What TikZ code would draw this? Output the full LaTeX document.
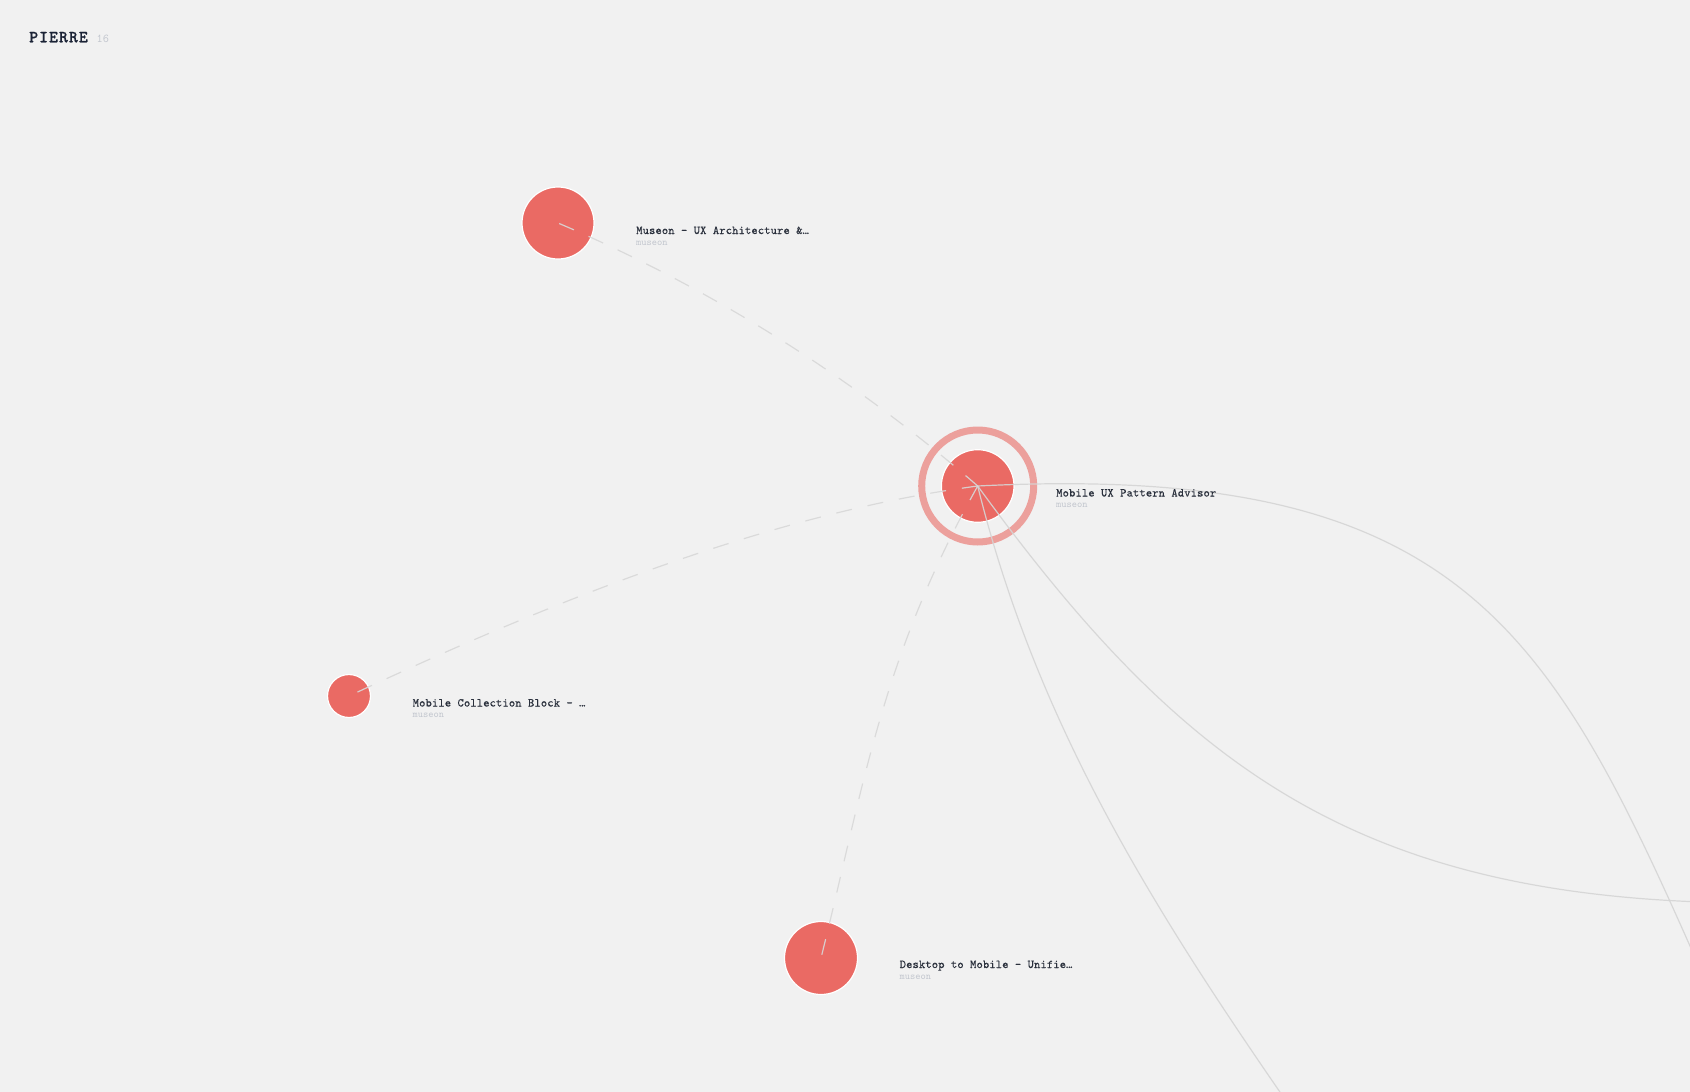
\documentclass[tikz,border=0pt]{standalone}
\usepackage{fontspec}
\usetikzlibrary{calc, positioning}
\newfontfamily\titlefont{lmmonolt10-bold.otf}[LetterSpace=6, FakeBold=0.8]
\newfontfamily\lblfont{lmmono10-regular.otf}[LetterSpace=1, FakeBold=0.35]
\definecolor{pbg}{HTML}{F1F1F1}
\definecolor{pred}{HTML}{EA6A64}
\definecolor{pline}{HTML}{D5D5D5}
\definecolor{pdash}{HTML}{D8D8D8}
\definecolor{pnavy}{HTML}{1B2336}
\definecolor{ptext}{HTML}{2A303C}
\definecolor{pmute}{HTML}{C2C6CE}

\begin{document}
\begin{tikzpicture}[x=1pt, y=1pt,
    dot/.style={circle, fill=pred, draw=white, line width=1.2pt, inner sep=0pt, outer sep=0pt},
    lbl/.style={anchor=base west, inner sep=0pt, text=ptext, font=\lblfont\fontsize{12}{14}\selectfont},
    sub/.style={anchor=base west, inner sep=0pt, text=pmute, font=\ttfamily\fontsize{10}{12}\selectfont},
    link/.style={draw=pline, line width=1.2pt, opacity=0.9},
    weak/.style={link, draw=pdash, dash pattern=on 16pt off 16pt}]
    % canvas
    \fill[pbg] (0,0) rectangle (1690,-1092);
    \useasboundingbox (0,0) rectangle (1690,-1092);
    \clip (0,0) rectangle (1690,-1092);

    % header
    \node[anchor=base west, inner sep=0pt, text=pnavy, font=\titlefont\fontsize{17}{20}\selectfont] (title) at (29,-42.3) {PIERRE};
    \node[anchor=base west, inner sep=0pt, text=pmute, font=\ttfamily\fontsize{12}{14}\selectfont] (count) at (96.5,-42.3) {16};

    % nodes
    \node[dot, minimum size=72.6] (advisor) at (977.7,-486) {};
    \draw[pred, opacity=0.6, line width=7] (advisor.center) circle (56);
    \node[dot, minimum size=72] (museon) at (558,-223) {};
    \node[dot, minimum size=43] (collection) at (349,-696) {};
    \node[dot, minimum size=73] (desktop) at (821,-958) {};

    % ends outside the frame
    \coordinate (far1) at (1716,-1005);
    \coordinate (far2) at (1760,-903);
    \coordinate (far3) at (1300,-1121);

    % links
    \draw[link] (advisor.center) .. controls +(500,25) and +(-160,364) .. (far1);
    \draw[link] (advisor.center) .. controls +(206.5,-283.5) and +(-400,0) .. (far2);
    \draw[link] (advisor.center) .. controls +(60,-242.5) and +(-142.5,205) .. (far3);
    \draw[weak] (advisor.center) .. controls +(139:165) and +(-23:165) .. (museon.center);
    \draw[weak] (advisor.center) .. controls +(187.5:210) and +(25:221) .. (collection.center);
    \draw[weak] (advisor.center) .. controls +(240.9:200) and +(76:180) .. (desktop.center);

    % labels
    \node[lbl] (advisorlbl) at ($(advisor.east)+(42,-10.5)$) {Mobile UX Pattern Advisor};
    \node[sub] at ($(advisorlbl.base west)+(0,-11)$) {museon};
    \node[lbl] (museonlbl) at ($(museon.east)+(42,-11)$) {Museon — UX Architecture \&…};
    \node[sub] at ($(museonlbl.base west)+(0,-11)$) {museon};
    \node[lbl] (collectionlbl) at ($(collection.east)+(42,-10.5)$) {Mobile Collection Block — …};
    \node[sub] at ($(collectionlbl.base west)+(0,-11)$) {museon};
    \node[lbl] (desktoplbl) at ($(desktop.east)+(42,-10)$) {Desktop to Mobile — Unifie…};
    \node[sub] at ($(desktoplbl.base west)+(0,-11)$) {museon};
\end{tikzpicture}
\end{document}
